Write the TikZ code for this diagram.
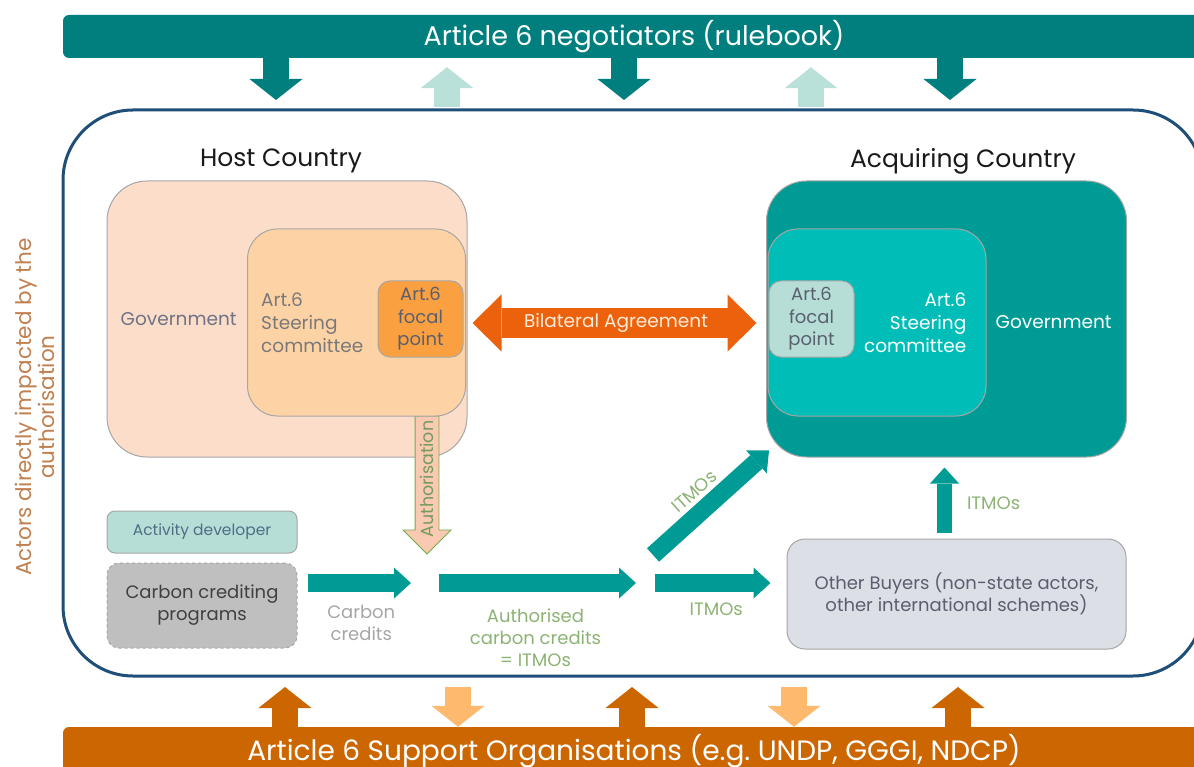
\documentclass[tikz,border=0pt]{standalone}
\usepackage{fontspec}
\setmainfont{Poppins}
\usepackage{tikz}
\usetikzlibrary{shapes,arrows.meta,positioning}

\definecolor{rteal}{HTML}{007F7E}
\definecolor{lteal}{HTML}{B9E1D9}
\definecolor{sorange}{HTML}{CC6600}
\definecolor{lorange}{HTML}{FDB96E}
\definecolor{frameblue}{HTML}{1F4E79}
\definecolor{boxgray}{HTML}{A6A6A6}
\definecolor{hgovc}{HTML}{FCDDCA}
\definecolor{hsteerc}{HTML}{FDD3A6}
\definecolor{hfocalc}{HTML}{FBA041}
\definecolor{agovc}{HTML}{009B95}
\definecolor{asteerc}{HTML}{00BDB8}
\definecolor{afocalc}{HTML}{B6DED7}
\definecolor{bilatc}{HTML}{EC610C}
\definecolor{authfill}{HTML}{F9C9B1}
\definecolor{authline}{HTML}{70AD47}
\definecolor{flowc}{HTML}{009B95}
\definecolor{greentext}{HTML}{8DB374}
\definecolor{graytext}{HTML}{6F7385}
\definecolor{darktext}{HTML}{5A5F6E}
\definecolor{devtext}{HTML}{4F6D85}
\definecolor{brown}{HTML}{C0804F}
\definecolor{buyerc}{HTML}{DCDFE6}
\definecolor{cpgray}{HTML}{BFBFBF}

\tikzstyle{bar} = [rectangle, rounded corners=6pt, minimum width=1142pt, text=white]
\tikzstyle{frame} = [rectangle, draw=frameblue, line width=3pt, rounded corners=70pt, minimum width=1140pt, minimum height=566pt]
\tikzstyle{box} = [rectangle, draw=boxgray, line width=1pt, align=center]
\tikzstyle{govbox} = [box, rounded corners=40pt, minimum width=360pt, minimum height=276pt]
\tikzstyle{steerbox} = [box, rounded corners=30pt, minimum width=218pt, minimum height=187pt]
\tikzstyle{focalbox} = [box, rounded corners=12pt, minimum width=85pt, minimum height=76pt, inner sep=0pt, font=\fontsize{18}{22.5}\selectfont]
\tikzstyle{txt} = [inner sep=0pt, align=center, font=\fontsize{18.5}{23}\selectfont]
\tikzstyle{title} = [inner sep=0pt, text=black!90, font=\fontsize{25}{28}\selectfont]
\tikzstyle{rulearr} = [line width=26pt, -{Triangle[length=21pt, width=53pt, line width=0pt]}]
\tikzstyle{flow} = [draw=flowc, line width=18pt, -{Triangle[length=17pt, width=31pt, line width=0pt]}]
\tikzstyle{flowlbl} = [txt, text=greentext, font=\fontsize{18}{22}\selectfont]

\begin{document}
\begin{tikzpicture}[x=1pt, y=-1pt]

\useasboundingbox (0,0) rectangle (1194,767);
\clip (0,0) rectangle (1194,767);

% bars and frame ==========================

\node[bar, fill=rteal, minimum height=43pt, font=\fontsize{27}{32}\selectfont] (negbar) at (634,36.5) {Article 6 negotiators (rulebook)};
\node[bar, fill=sorange, minimum height=48pt, font=\fontsize{28}{32}\selectfont] (supbar) at (634,751) {Article 6 Support Organisations (e.g.\ UNDP, GGGI, NDCP)};
\node[frame] (frame) at (633,393) {};
\node[txt, text=brown, rotate=90, font=\fontsize{21.5}{23}\selectfont] (actors) at (35,407) {Actors directly impacted by the\\authorisation};

% arrows between the bars and the frame
\foreach \x in {276,624,950} {
  \coordinate (col) at (\x,0);
  \draw[rulearr, draw=rteal, shorten >=8.5pt] (negbar.south -| col) -- (frame.north -| col);
}
\foreach \x in {447,811} {
  \coordinate (col) at (\x,0);
  \draw[rulearr, draw=lteal, shorten <=1.5pt, shorten >=9pt] (frame.north -| col) -- (negbar.south -| col);
}
\foreach \x in {285,632,958} {
  \coordinate (col) at (\x,0);
  \draw[rulearr, draw=sorange, shorten >=9.5pt] (supbar.north -| col) -- (frame.south -| col);
}
\foreach \x in {458,794} {
  \coordinate (col) at (\x,0);
  \draw[rulearr, draw=lorange, shorten <=9.5pt] (frame.south -| col) -- (supbar.north -| col);
}

% host country ============================

\node[title] (htitle) at (281,161) {Host Country};
\node[govbox, fill=hgovc] (hgov) at (287,319) {};
\node[txt, text=graytext, right=14pt of hgov.west] (hgovtxt) {Government};

% authorisation arrow, under the steering committee
\node[single arrow, draw=authline, fill=authfill, line width=0.8pt, rotate=90, shape border rotate=180,
      minimum height=138pt, minimum width=47pt, single arrow head extend=12pt, single arrow tip angle=90,
      text height=12pt, text depth=0pt, inner ysep=5.5pt, inner xsep=2pt, text=authline!60!gray,
      font=\fontsize{17.5}{20}\selectfont] (auth) at (427,479) {Authorisation\hspace{14pt}};

\node[steerbox, fill=hsteerc] (hsteer) at (356.5,322.5) {};
\node[txt, align=left, text=gray!95!black, right=14pt of hsteer.west] (hsteertxt) {Art.6\\Steering\\committee};
\node[focalbox, fill=hfocalc, text=darktext] (hfocal) at (420.5,319) {Art.6\\focal\\point};

% acquiring country =======================

\node[title] (atitle) at (963,161) {Acquiring Country};
\node[govbox, fill=agovc] (agov) at (946.5,319) {};
\node[steerbox, fill=asteerc] (asteer) at (877,322.5) {};
\node[focalbox, fill=afocalc, text=darktext] (afocal) at (811.5,319) {Art.6\\focal\\point};
\node[txt, align=right, text=white, left=20pt of asteer.east] (asteertxt) {Art.6\\Steering\\committee};
\node[txt, text=white, right=9pt of asteer.east] (agovtxt) {Government};

% bilateral agreement
\draw[draw=bilatc, line width=29pt,
      {Triangle[length=29pt, width=57pt, line width=0pt]}-{Triangle[length=29pt, width=57pt, line width=0pt]},
      shorten <=9pt, shorten >=12pt]
  ([yshift=-4pt]hfocal.east) -- node[txt, text=orange!15!white] (bilattxt) {Bilateral Agreement} ([yshift=-4pt]afocal.west);

% credit chain ============================

\node[box, rounded corners=8pt, fill=afocalc, minimum width=190pt, minimum height=42pt, text=devtext,
      font=\fontsize{15.5}{18}\selectfont] (actdev) at (202,532) {Activity developer};
\node[box, dashed, rounded corners=12pt, fill=cpgray, minimum width=190pt, minimum height=85pt, text=black!75,
      font=\fontsize{18}{22}\selectfont] (ccp) at (202,605.5) {Carbon crediting\\programs};
\node[box, rounded corners=18pt, fill=buyerc, minimum width=339pt, minimum height=110pt, text=darktext,
      font=\fontsize{18}{22}\selectfont] (obuy) at (956.5,594) {Other Buyers (non-state actors,\\other international schemes)};

\coordinate (hub1) at (425,583);
\coordinate (hub2) at (646,583);
\coordinate (dstart) at (653,555);
\coordinate (dtip) at ([xshift=3pt, yshift=7pt]agov.south west);
\coordinate (up) at ([xshift=-12pt]obuy.north);

% edges
\draw[flow, shorten <=10pt, shorten >=14pt] (ccp.east |- hub1) -- node[flowlbl, text=gray!70, below=13pt] (cclbl) {Carbon\\credits} (hub1);
\draw[flow, shorten <=14pt, shorten >=10pt] (hub1) -- node[flowlbl, below=17pt] (authlbl) {Authorised\\carbon credits\\= ITMOs} (hub2);
\draw[flow, shorten <=9pt, shorten >=16pt] (hub2) -- node[flowlbl, below=11pt] (itmo1) {ITMOs} (obuy.west |- hub2);
\draw[flow] (dstart) -- node[flowlbl, sloped, above=4pt, pos=0.47] (itmo2) {ITMOs} (dtip);
\draw[flow, line width=15pt, -{Triangle[length=16pt, width=29pt, line width=0pt]}, shorten <=6pt, shorten >=10pt]
  (up) -- node[flowlbl, right=15pt, yshift=-5pt] (itmo3) {ITMOs} (up |- agov.south);

\end{tikzpicture}
\end{document}
